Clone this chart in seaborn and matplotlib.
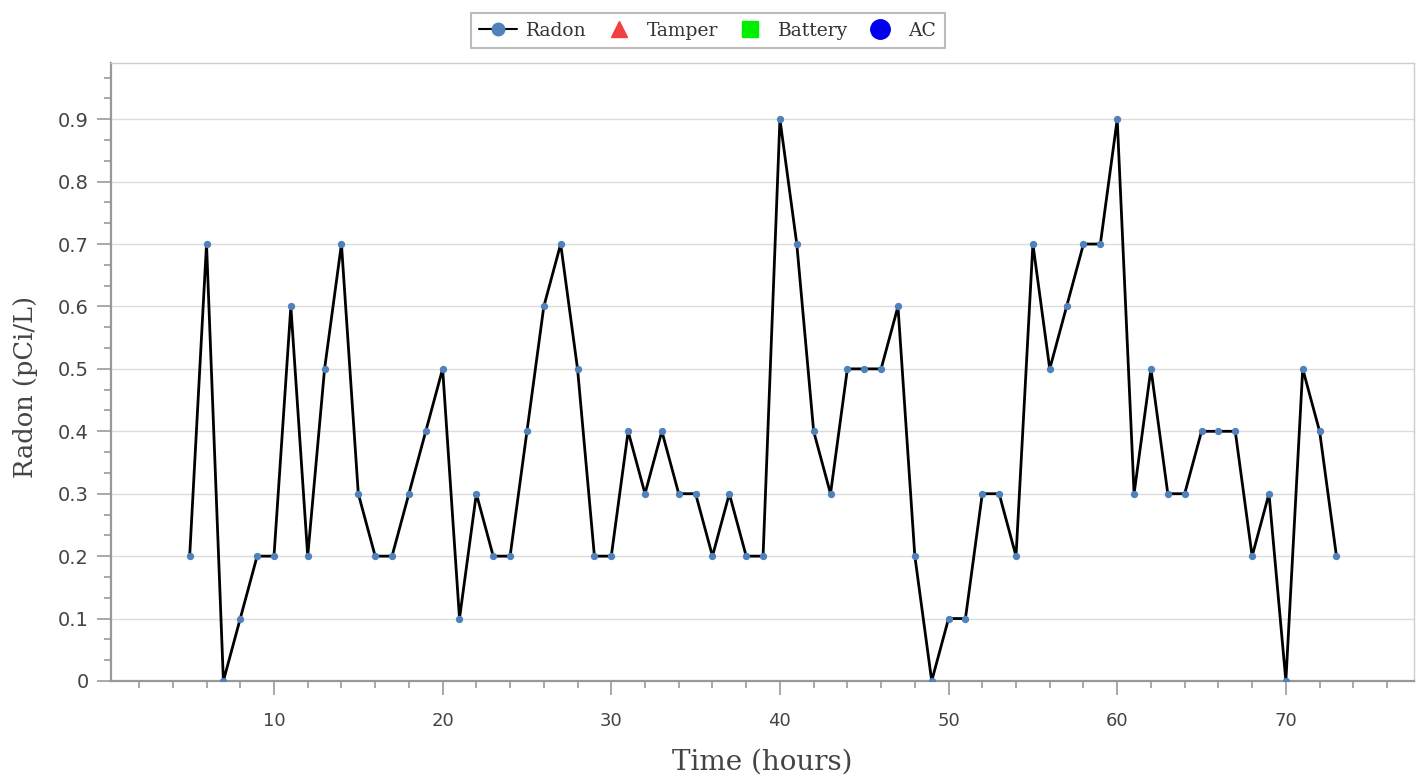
import numpy as np
import pandas as pd
import matplotlib
matplotlib.use("Agg")
import matplotlib.pyplot as plt
from matplotlib.lines import Line2D
from matplotlib.ticker import MultipleLocator
import seaborn as sns

hours = list(range(5, 74))
radon = [0.2, 0.7, 0.0, 0.1, 0.2, 0.2, 0.6, 0.2, 0.5, 0.7,
         0.3, 0.2, 0.2, 0.3, 0.4, 0.5, 0.1, 0.3, 0.2, 0.2,
         0.4, 0.6, 0.7, 0.5, 0.2, 0.2, 0.4, 0.3, 0.4, 0.3,
         0.3, 0.2, 0.3, 0.2, 0.2, 0.9, 0.7, 0.4, 0.3, 0.5,
         0.5, 0.5, 0.6, 0.2, 0.0, 0.1, 0.1, 0.3, 0.3, 0.2,
         0.7, 0.5, 0.6, 0.7, 0.7, 0.9, 0.3, 0.5, 0.3, 0.3,
         0.4, 0.4, 0.4, 0.2, 0.3, 0.0, 0.5, 0.4, 0.2]
y_ticks = [0, 0.1, 0.2, 0.3, 0.4, 0.5, 0.6, 0.7, 0.8, 0.9]
y_tick_labels = ["0", "0.1", "0.2", "0.3", "0.4", "0.5", "0.6", "0.7", "0.8", "0.9"]
x_ticks = [10, 20, 30, 40, 50, 60, 70]
legend_labels = ["Radon", "Tamper", "Battery", "AC"]

df = pd.DataFrame({"hours": hours, "radon": radon})

sns.set_style("white")
plt.rcParams['font.family'] = ['DejaVu Sans']
SERIF = ["DejaVu Serif", "Liberation Serif"]

fig = plt.figure(figsize=(14.24, 7.78), dpi=100)
ax = fig.add_axes([0.078, 0.1247, 0.915, 0.7943])

sns.lineplot(data=df, x="hours", y="radon", ax=ax, color="black", linewidth=2.0,
             marker="o", markersize=4.5, markerfacecolor="#4f81bd",
             markeredgecolor="#4f81bd", zorder=3)

ax.set_xlim(0.34, 77.6)
ax.set_ylim(0, 0.99)
ax.set_xticks(x_ticks)
ax.set_xticklabels([str(t) for t in x_ticks])
ax.set_yticks(y_ticks)
ax.set_yticklabels(y_tick_labels)
ax.xaxis.set_minor_locator(MultipleLocator(2))
ax.yaxis.set_minor_locator(MultipleLocator(0.1 / 3))
ax.grid(axis="y", which="major", color="#dcdcdc", linewidth=1)
ax.set_axisbelow(True)

ax.tick_params(axis="both", which="major", direction="out", length=10, width=1.2,
               color="#999999", labelcolor="#444444")
ax.tick_params(axis="y", which="major", labelsize=14, pad=6)
ax.tick_params(axis="x", which="major", labelsize=13, pad=12)
ax.tick_params(axis="both", which="minor", direction="out", length=5, width=1.2,
               color="#999999")
ax.tick_params(axis="x", which="both", bottom=True)
ax.tick_params(axis="y", which="both", left=True)

for side in ["left", "bottom"]:
    ax.spines[side].set_color("#999999")
    ax.spines[side].set_linewidth(1.6)
for side in ["top", "right"]:
    ax.spines[side].set_color("#cccccc")
    ax.spines[side].set_linewidth(1)
    ax.spines[side].set_visible(True)

ax.set_xlabel("Time (hours)", family=SERIF, fontsize=20,
              color="#444444", labelpad=14)
ax.set_ylabel("Radon (pCi/L)", family=SERIF, fontsize=18.5,
              color="#444444")
ax.yaxis.set_label_coords(-0.056, 0.476)

handles = [
    Line2D([], [], color="black", linewidth=1.5, marker="o", markersize=9,
           markerfacecolor="#4f81bd", markeredgecolor="#4f81bd"),
    Line2D([], [], linestyle="none", marker="^", markersize=12, color="#f04040"),
    Line2D([], [], linestyle="none", marker="s", markersize=11, color="#00ee00"),
    Line2D([], [], linestyle="none", marker="o", markersize=14, color="#0000ee"),
]
leg = fig.legend(handles, legend_labels, loc="upper center", ncol=4,
                 bbox_to_anchor=(0.497, 0.995), frameon=True, fancybox=False,
                 prop={"family": SERIF, "size": 13.5},
                 handlelength=2.0, columnspacing=0.7, handletextpad=0.5,
                 borderpad=0.45, edgecolor="#aaaaaa")
leg.get_frame().set_linewidth(1.5)
for t in leg.get_texts():
    t.set_color("#333333")

fig.savefig("out.png", dpi=100)
